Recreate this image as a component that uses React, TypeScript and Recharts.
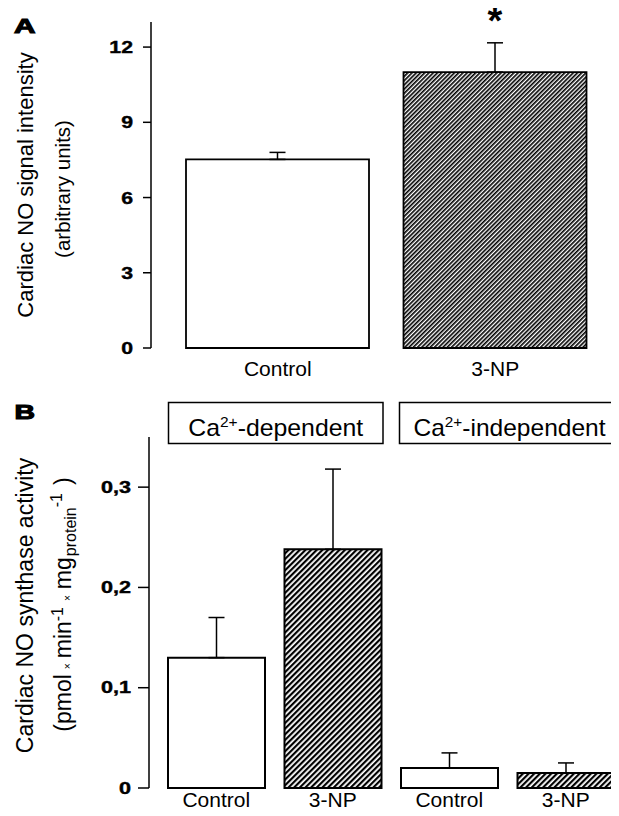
import React from 'react';
import { BarChart, Bar, XAxis, YAxis, ErrorBar, Cell, LabelList, Label } from 'recharts';

// Panel A data
const catsA = ['Control', '3-NP'];
const valsA = [7.52, 11.0];
const semA = [0.28, 1.17];
const sigA = ['', '*'];
const ticksA = [0, 3, 6, 9, 12];

// Panel B data
const catsB = ['Control', '3-NP', 'Control', '3-NP'];
const valsB = [0.13, 0.238, 0.02, 0.015];
const semB = [0.04, 0.08, 0.015, 0.01];
const ticksB = [0, 0.1, 0.2, 0.3];
const groupLabels = ['-dependent', '-independent'];

const dataA = catsA.map((name, i) => ({ name, value: valsA[i], err: [0, semA[i]], sig: sigA[i] }));
const dataB = catsB.map((name, i) => ({ name, value: valsB[i], err: [0, semB[i]] }));

const FONT = '"Liberation Sans", Arial, sans-serif';

const makeTick = (fs: number, sx: number, fmt: (v: number) => string) => (props: any) => {
  const { x, y, payload } = props;
  return (
    <g transform={`translate(${x},${y})`}>
      <text transform={`scale(${sx},1)`} textAnchor="end" dy="0.36em" fontWeight="bold" fontSize={fs}
        fontFamily={FONT} fill="#000" stroke="#000" strokeWidth={0.4}>
        {fmt(payload.value)}
      </text>
    </g>
  );
};

const CatTick = (props: any) => {
  const { x, y, payload } = props;
  return (
    <text x={x} y={y} dy={15} textAnchor="middle" fontSize={21} fontFamily={FONT} fill="#000">
      {payload.value}
    </text>
  );
};

const LabelA = (props: any) => {
  const vb = props.viewBox || { y: 22, height: 326 };
  const cy = vb.y + vb.height / 2;
  return (
    <g fontFamily={FONT} fill="#000">
      <text transform={`translate(33,${cy}) rotate(-90)`} textAnchor="middle" fontSize={22}>Cardiac NO signal intensity</text>
      <text transform={`translate(70,${cy + 4}) rotate(-90)`} textAnchor="middle" fontSize={20.5}>(arbitrary units)</text>
    </g>
  );
};

const LabelB = (props: any) => {
  const vb = props.viewBox || { y: 47, height: 351 };
  const cy = vb.y + vb.height / 2;
  return (
    <g fontFamily={FONT} fill="#000">
      <text transform={`translate(33,${cy - 7}) rotate(-90)`} textAnchor="middle" fontSize={23}>Cardiac NO synthase activity</text>
      <text transform={`translate(71,${cy - 8}) rotate(-90)`} textAnchor="middle" fontSize={23}>
        (pmol
        <tspan fontSize={10} dx={5}>×</tspan>
        <tspan dx={5}>min</tspan>
        <tspan fontSize={16} dy={-8}>-1</tspan>
        <tspan fontSize={10} dy={8} dx={6}>×</tspan>
        <tspan dx={6}>mg</tspan>
        <tspan fontSize={16} dy={5} dx={1}>protein</tspan>
        <tspan fontSize={16} dy={-14}>-1</tspan>
        <tspan dy={9} dx={8}>)</tspan>
      </text>
    </g>
  );
};

const Asterisk = (props: any) => {
  const { x, y, width, value } = props;
  if (!value) return null;
  return (
    <text x={x + width / 2} y={y - 38} textAnchor="middle" fontSize={38} fontWeight="bold" fontFamily={FONT} fill="#000">
      {value}
    </text>
  );
};

export default function App() {
  return (
    <div style={{ position: 'relative', width: 619, height: 816, margin: -8, overflow: 'hidden', background: '#fff', fontFamily: FONT }}>
      <svg width={0} height={0} style={{ position: 'absolute' }}>
        <defs>
          <pattern id="hatchA" patternUnits="userSpaceOnUse" width={3} height={3} patternTransform="rotate(45)">
            <rect x={0} y={0} width={1.65} height={3} fill="#000" />
          </pattern>
          <pattern id="hatchB" patternUnits="userSpaceOnUse" width={4} height={4} patternTransform="rotate(45)">
            <rect x={0} y={0} width={2.2} height={4} fill="#000" />
          </pattern>
        </defs>
      </svg>

      <div style={{ position: 'absolute', left: 0, top: 0 }}>
        <BarChart width={619} height={390} data={dataA} margin={{ top: 22, right: 15, bottom: 0, left: 0 }}>
          <XAxis dataKey="name" axisLine={false} tickLine={false} tickSize={0} tickMargin={13} height={42}
            padding={{ left: 18, right: 0 }} tick={<CatTick />} interval={0} />
          <YAxis type="number" domain={[0, 13]} ticks={ticksA} width={151} tickSize={8} tickMargin={10}
            axisLine={{ stroke: '#000', strokeWidth: 1.5 }} tickLine={{ stroke: '#000', strokeWidth: 1.5 }}
            tick={makeTick(17, 1.25, (v) => String(v))}>
            <Label content={<LabelA />} />
          </YAxis>
          <Bar dataKey="value" barSize={183} stroke="#000" strokeWidth={1.8} isAnimationActive={false}>
            {dataA.map((d, i) => (
              <Cell key={i} fill={d.name === '3-NP' ? 'url(#hatchA)' : '#fff'} />
            ))}
            <ErrorBar dataKey="err" direction="y" width={8} stroke="#000" strokeWidth={1.5} isAnimationActive={false} />
            <LabelList dataKey="sig" content={<Asterisk />} />
          </Bar>
        </BarChart>
      </div>

      <div style={{ position: 'absolute', left: 0, top: 390 }}>
        <BarChart width={630} height={426} data={dataB} margin={{ top: 47, right: 6, bottom: 0, left: 0 }}>
          <XAxis dataKey="name" axisLine={false} tickLine={false} tickSize={0} tickMargin={4} height={28}
            padding={{ left: 9, right: 0 }} tick={<CatTick />} interval={0} />
          <YAxis type="number" domain={[0, 0.35]} ticks={ticksB} width={149} tickSize={11} tickMargin={7}
            axisLine={{ stroke: '#000', strokeWidth: 1.5 }} tickLine={{ stroke: '#000', strokeWidth: 1.5 }}
            tick={makeTick(16, 1.35, (v) => String(v).replace('.', ','))}>
            <Label content={<LabelB />} />
          </YAxis>
          <Bar dataKey="value" barSize={97} stroke="#000" strokeWidth={2} isAnimationActive={false}>
            {dataB.map((d, i) => (
              <Cell key={i} fill={d.name === '3-NP' ? 'url(#hatchB)' : '#fff'} />
            ))}
            <ErrorBar dataKey="err" direction="y" width={8} stroke="#000" strokeWidth={1.5} isAnimationActive={false} />
          </Bar>
        </BarChart>
      </div>

      <svg width={619} height={816} style={{ position: 'absolute', left: 0, top: 0, pointerEvents: 'none' }} fontFamily={FONT}>
        <text x={14} y={33} fontSize={21} fontWeight="bold" stroke="#000" strokeWidth={1.1} textLength={21.5} lengthAdjust="spacingAndGlyphs">A</text>
        <text x={14.5} y={418.5} fontSize={20} fontWeight="bold" stroke="#000" strokeWidth={1.1} textLength={20.5} lengthAdjust="spacingAndGlyphs">B</text>

        <rect x={168.5} y={402.5} width={214.5} height={41} fill="#fff" stroke="#000" strokeWidth={1.5} />
        <text x={275.75} y={436} textAnchor="middle" fontSize={24} textLength={175} lengthAdjust="spacingAndGlyphs">
          Ca<tspan fontSize={15} dy={-9}>2+</tspan><tspan dy={9}>{groupLabels[0]}</tspan>
        </text>

        <rect x={399.5} y={402.5} width={217} height={41} fill="#fff" stroke="#000" strokeWidth={1.5} />
        <text x={509.5} y={436} textAnchor="middle" fontSize={24} textLength={192} lengthAdjust="spacingAndGlyphs">
          Ca<tspan fontSize={15} dy={-9}>2+</tspan><tspan dy={9}>{groupLabels[1]}</tspan>
        </text>
      </svg>
    </div>
  );
}
